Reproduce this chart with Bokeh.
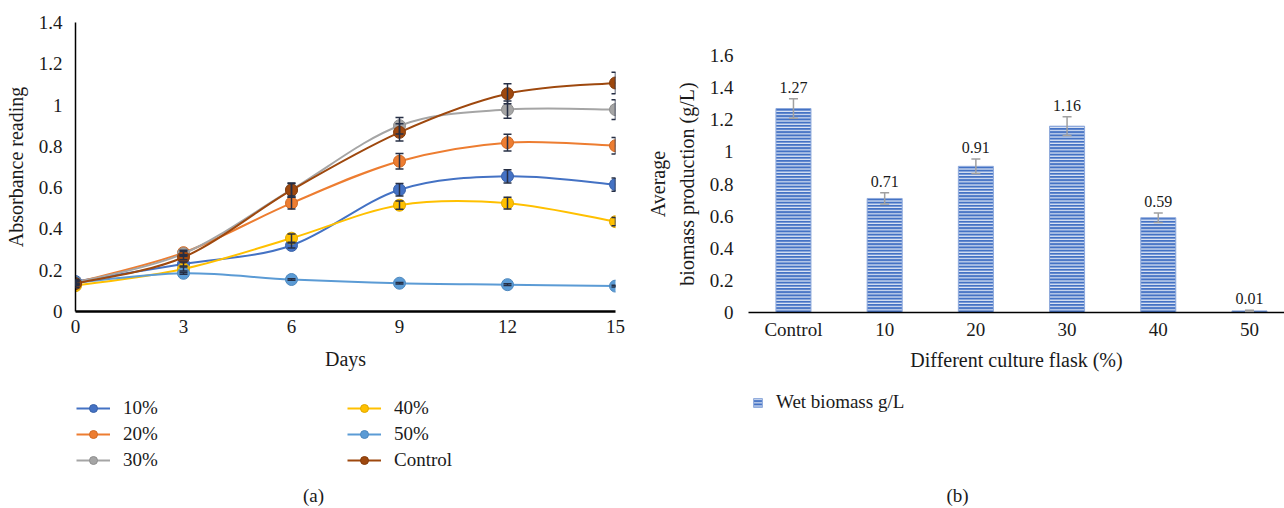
import numpy as np
from bokeh.plotting import figure
from bokeh.models import (ColumnDataSource, Whisker, TeeHead, Legend, LegendItem,
                          Label, FixedTicker, Range1d)
from bokeh.layouts import row, column
from bokeh.embed import file_html
from bokeh.resources import INLINE

# ---------------- data: panel (a) ----------------
days = [0, 3, 6, 9, 12, 15]
series_names = ["10%", "20%", "30%", "40%", "50%", "Control"]
abs_10 = [0.145, 0.23, 0.32, 0.59, 0.655, 0.615]
abs_20 = [0.14, 0.285, 0.525, 0.728, 0.818, 0.803]
abs_30 = [0.14, 0.28, 0.59, 0.90, 0.978, 0.978]
abs_40 = [0.125, 0.206, 0.355, 0.515, 0.525, 0.435]
abs_50 = [0.14, 0.185, 0.155, 0.137, 0.13, 0.123]
abs_ctl = [0.135, 0.263, 0.588, 0.868, 1.055, 1.107]
err_10 = [0.01, 0.01, 0.012, 0.03, 0.032, 0.032]
err_20 = [0.01, 0.012, 0.028, 0.038, 0.041, 0.04]
err_30 = [0.01, 0.012, 0.03, 0.04, 0.042, 0.048]
err_40 = [0.01, 0.01, 0.02, 0.02, 0.028, 0.02]
err_50 = [0.004, 0.004, 0.004, 0.004, 0.004, 0.004]
err_ctl = [0.01, 0.012, 0.034, 0.042, 0.048, 0.052]
abs_ticks = [0, 0.2, 0.4, 0.6, 0.8, 1, 1.2, 1.4]

# ---------------- data: panel (b) ----------------
groups = ["Control", "10", "20", "30", "40", "50"]
biomass = [1.27, 0.71, 0.91, 1.16, 0.59, 0.01]
biomass_err = [0.06, 0.035, 0.045, 0.058, 0.03, 0.004]
biomass_ticks = [0, 0.2, 0.4, 0.6, 0.8, 1, 1.2, 1.4, 1.6]

FONT = "Liberation Serif"
TXT = "#1a1a1a"
FS = "19px"
FS_T = "20px"
colors = ["#4472C4", "#ED7D31", "#A5A5A5", "#FFC000", "#5B9BD5", "#9E480E"]
edges = ["#3A62A8", "#D06A25", "#8F8F8F", "#E0A800", "#4E88BE", "#843B0B"]
NAN = [float("nan")]


def tick_fmt(v):
    return ("%g" % v)


def bezier_segments(x, y):
    x = np.asarray(x, float)
    y = np.asarray(y, float)
    xp = np.concatenate([[x[0]], x, [x[-1]]])
    yp = np.concatenate([[y[0]], y, [y[-1]]])
    n = len(x)
    i = np.arange(n - 1)
    return dict(
        x0=x[:-1], y0=y[:-1], x1=x[1:], y1=y[1:],
        cx0=x[i] + (x[i + 1] - xp[i]) / 6.0,
        cy0=y[i] + (y[i + 1] - yp[i]) / 6.0,
        cx1=x[i + 1] - (xp[i + 3] - x[i]) / 6.0,
        cy1=y[i + 1] - (yp[i + 3] - y[i]) / 6.0,
    )


def style_axes(p, tick_fs, label_fs):
    p.outline_line_color = None
    p.grid.visible = False
    p.background_fill_color = "white"
    p.border_fill_color = "white"
    for ax in (p.xaxis[0], p.yaxis[0]):
        ax.major_tick_line_color = None
        ax.minor_tick_line_color = None
        ax.major_label_text_font = FONT
        ax.major_label_text_font_size = tick_fs
        ax.major_label_text_color = TXT
        ax.axis_label_text_font = FONT
        ax.axis_label_text_font_size = label_fs
        ax.axis_label_text_font_style = "normal"
        ax.axis_label_text_color = TXT


def legend_fig(width, height):
    f = figure(width=width, height=height, output_backend="svg", toolbar_location=None,
               x_range=Range1d(0, 1), y_range=Range1d(0, 1),
               x_axis_location=None, y_axis_location=None,
               min_border_left=0, min_border_right=0, min_border_top=0,
               min_border_bottom=0)
    f.outline_line_color = None
    f.grid.visible = False
    f.background_fill_color = "white"
    f.border_fill_color = "white"
    return f


# ---------------- panel (a) ----------------
p1 = figure(width=640, height=380, output_backend="svg", toolbar_location=None,
            x_range=Range1d(0, 15), y_range=Range1d(0, 1.4),
            min_border_left=75, min_border_right=25, min_border_top=22,
            min_border_bottom=69)
style_axes(p1, FS, FS_T)
p1.xaxis.axis_line_color = "black"
p1.yaxis.axis_line_color = "black"
p1.xaxis.axis_line_width = 2.5
p1.yaxis.axis_line_width = 1.5
p1.xaxis.ticker = FixedTicker(ticks=days)
p1.yaxis.ticker = FixedTicker(ticks=abs_ticks)
p1.yaxis.major_label_overrides = {t: tick_fmt(t) for t in abs_ticks}
p1.xaxis.axis_label = "Days"
p1.yaxis.axis_label = "Absorbance reading"
p1.xaxis.major_label_standoff = 2
p1.xaxis.axis_label_standoff = 12
p1.yaxis.major_label_standoff = 7
p1.yaxis.axis_label_standoff = 9

all_vals = [abs_10, abs_20, abs_30, abs_40, abs_50, abs_ctl]
all_errs = [err_10, err_20, err_30, err_40, err_50, err_ctl]

l1 = legend_fig(640, 128)
items = []
for name, vals, errs, c, e in zip(series_names, all_vals, all_errs, colors, edges):
    seg = ColumnDataSource(bezier_segments(days, vals))
    p1.bezier(x0="x0", y0="y0", x1="x1", y1="y1", cx0="cx0", cy0="cy0",
              cx1="cx1", cy1="cy1", source=seg, line_color=c, line_width=2)
    src = ColumnDataSource(dict(x=days, y=vals,
                                upper=[v + d for v, d in zip(vals, errs)],
                                lower=[v - d for v, d in zip(vals, errs)]))
    p1.scatter(x="x", y="y", source=src, size=12, fill_color=c,
               line_color=e, line_width=1)
    wk = Whisker(base="x", upper="upper", lower="lower", source=src,
                 line_color="#262f45", line_width=1.5, level="overlay",
                 upper_head=TeeHead(size=8, line_color="#262f45", line_width=1.5),
                 lower_head=TeeHead(size=8, line_color="#262f45", line_width=1.5))
    p1.add_layout(wk)
    # legend keys: style-only proxies with a single undefined (NaN) point
    lr = l1.line(x=NAN, y=NAN, line_color=c, line_width=2)
    ls = l1.scatter(x=NAN, y=NAN, size=12, fill_color=c, line_color=e, line_width=1)
    items.append(LegendItem(label=name, renderers=[lr, ls]))


def make_legend(its, loc):
    return Legend(items=its, location=loc, orientation="vertical",
                  glyph_width=34, glyph_height=20, spacing=4, padding=0, margin=0,
                  label_standoff=13, label_text_font=FONT,
                  label_text_font_size=FS, label_text_color=TXT,
                  border_line_color=None, background_fill_alpha=0)


l1.add_layout(make_legend(items[:3], (1, 37)))
l1.add_layout(make_legend(items[3:], (272, 37)))
l1.add_layout(Label(x=238, y=13, x_units="screen", y_units="screen", text="(a)",
                    text_font=FONT, text_font_size=FS, text_color=TXT,
                    text_align="center", text_baseline="middle"))

# ---------------- panel (b) ----------------
xpos = list(range(len(groups)))
p2 = figure(width=644, height=380, output_backend="svg", toolbar_location=None,
            x_range=Range1d(-0.493, 5.384), y_range=Range1d(0, 1.6),
            min_border_left=108, min_border_right=0, min_border_top=55,
            min_border_bottom=68)
style_axes(p2, FS, FS_T)
p2.xaxis.axis_line_color = "black"
p2.xaxis.axis_line_width = 1.5
p2.yaxis.axis_line_color = None
p2.xaxis.ticker = FixedTicker(ticks=xpos)
p2.xaxis.major_label_overrides = {i: g for i, g in zip(xpos, groups)}
p2.yaxis.ticker = FixedTicker(ticks=biomass_ticks)
p2.yaxis.major_label_overrides = {t: tick_fmt(t) for t in biomass_ticks}
p2.xaxis.axis_label = "Different culture flask (%)"
p2.yaxis.axis_label = "Average\nbiomass production (g/L)"
p2.yaxis.axis_label_text_line_height = 1.3
p2.xaxis.major_label_standoff = 0
p2.xaxis.axis_label_standoff = 6
p2.yaxis.major_label_standoff = 9
p2.yaxis.axis_label_standoff = 9

bsrc = ColumnDataSource(dict(x=xpos, top=biomass,
                             upper=[v + d for v, d in zip(biomass, biomass_err)],
                             lower=[v - d for v, d in zip(biomass, biomass_err)],
                             label=["%.2f" % v for v in biomass]))
bar_style = dict(fill_color="#4472C4", line_color="#8FAADC", line_width=1,
                 hatch_pattern="horizontal_line", hatch_color="white",
                 hatch_alpha=0.85, hatch_weight=1.2, hatch_scale=3.2)
p2.vbar(x="x", top="top", width=0.384, source=bsrc, **bar_style)
p2.add_layout(Whisker(base="x", upper="upper", lower="lower", source=bsrc,
                      line_color="#A0A0A0", line_width=1.5, level="overlay",
                      upper_head=TeeHead(size=9, line_color="#A0A0A0", line_width=1.5),
                      lower_head=TeeHead(size=9, line_color="#A0A0A0", line_width=1.5)))
p2.text(x="x", y="upper", text="label", source=bsrc, text_font=FONT,
        text_font_size="16px", text_color=TXT, text_align="center",
        text_baseline="bottom", y_offset=-6)

l2 = legend_fig(644, 128)
lb = l2.vbar(x=NAN, top=NAN, width=0.5, **bar_style)
leg2 = Legend(items=[LegendItem(label="Wet biomass g/L", renderers=[lb])],
              location=(4, 95), glyph_width=11, glyph_height=11, padding=0, margin=0,
              label_standoff=13, label_text_font=FONT, label_text_font_size=FS,
              label_text_color=TXT, border_line_color=None, background_fill_alpha=0)
l2.add_layout(leg2)
l2.add_layout(Label(x=209, y=13, x_units="screen", y_units="screen", text="(b)",
                    text_font=FONT, text_font_size=FS, text_color=TXT,
                    text_align="center", text_baseline="middle"))

layout = row(column(p1, l1), column(p2, l2))
open("out.html", "w").write(file_html(layout, INLINE))
